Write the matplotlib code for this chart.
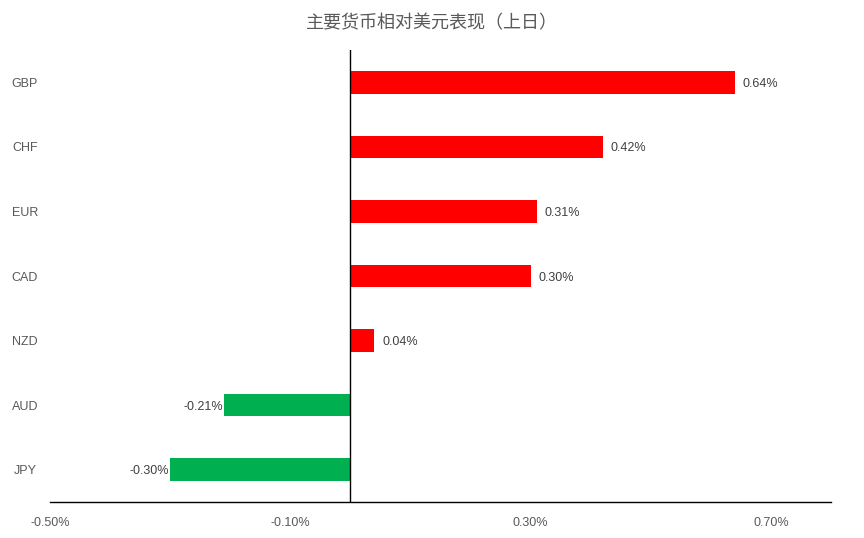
import matplotlib.pyplot as plt
from matplotlib.ticker import FuncFormatter

plt.rcParams['font.family'] = ['Liberation Sans', 'Noto Sans CJK SC', 'DejaVu Sans']

currencies = ['GBP', 'CHF', 'EUR', 'CAD', 'NZD', 'AUD', 'JPY']
changes = [0.64, 0.42, 0.31, 0.30, 0.04, -0.21, -0.30]  # 单位 %
x_ticks = [-0.50, -0.10, 0.30, 0.70]
title = '主要货币相对美元表现（上日）'

colors = ['#FF0000' if v >= 0 else '#00B050' for v in changes]

fig = plt.figure(figsize=(8.64, 5.38), dpi=100)
ax = fig.add_axes([50 / 864, 1 - 502 / 538, (831 - 50) / 864, (502 - 50) / 538])

ypos = list(range(len(currencies)))
ax.barh(ypos, changes, height=0.35, color=colors)
ax.set_ylim(len(currencies) - 0.5, -0.5)
ax.set_xlim(-0.5, 0.8)

# 数据标签
for y, v in zip(ypos, changes):
    if v >= 0:
        ax.text(v + 0.013, y, f'{v:.2f}%', va='center_baseline', ha='left', fontsize=9, color='#404040')
    else:
        ax.text(v - 0.002, y, f'{v:.2f}%', va='center_baseline', ha='right', fontsize=9, color='#404040')

ax.axvline(0, color='black', lw=1)

ax.set_yticks(ypos)
ax.set_yticklabels(currencies)
for lab in ax.get_yticklabels():
    lab.set_horizontalalignment('center')
ax.tick_params(axis='y', length=0, pad=18, labelsize=9, labelcolor='#595959')

ax.set_xticks(x_ticks)
ax.xaxis.set_major_formatter(FuncFormatter(lambda v, p: f'{v:.2f}%'))
ax.tick_params(axis='x', length=0, pad=11, labelsize=9, labelcolor='#595959')

for s in ['top', 'right', 'left']:
    ax.spines[s].set_visible(False)
ax.spines['bottom'].set_color('black')
ax.spines['bottom'].set_linewidth(1)

fig.text(0.5, 1 - 23 / 538, title, ha='center', va='center', fontsize=13, color='#595959',
         family=['Noto Sans CJK SC', 'DejaVu Sans'])

fig.savefig('out.png', dpi=100)
